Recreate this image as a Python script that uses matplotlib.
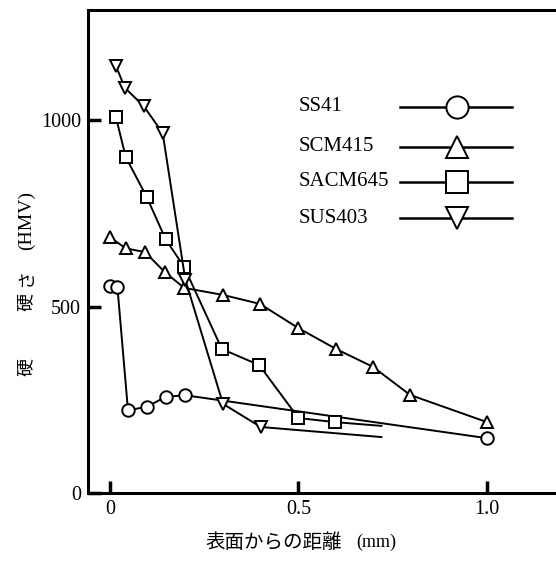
import matplotlib.pyplot as plt
from matplotlib.lines import Line2D

plt.rcParams['font.family'] = ['Liberation Serif', 'DejaVu Serif']

# hardness profiles vs depth from surface (mm)
ss41_x = [0.0, 0.02, 0.048, 0.098, 0.148, 0.2, 1.0]
ss41_y = [555, 552, 222, 231, 258, 262, 147]

scm415_x = [0.0, 0.042, 0.093, 0.146, 0.197, 0.3, 0.398, 0.5, 0.6, 0.698, 0.796, 1.0]
scm415_y = [686, 656, 646, 592, 550, 531, 507, 442, 386, 338, 263, 190]

sacm645_x = [0.016, 0.042, 0.098, 0.148, 0.197, 0.297, 0.396, 0.5, 0.597, 0.72]
sacm645_y = [1008, 901, 793, 680, 606, 386, 343, 201, 190, 180]

sus403_x = [0.016, 0.04, 0.09, 0.14, 0.2, 0.3, 0.4, 0.72]
sus403_y = [1145, 1086, 1037, 965, 572, 239, 177, 150]

names = ['SS41', 'SCM415', 'SACM645', 'SUS403']
markers = ['o', '^', 's', 'v']

W, H = 556, 561
fig = plt.figure(figsize=(W / 100, H / 100), dpi=100)
ax = fig.add_axes([88 / W, 68 / H, (W - 88) / W, 483 / H])

series = [(ss41_x, ss41_y, False), (scm415_x, scm415_y, False),
          (sacm645_x, sacm645_y, True), (sus403_x, sus403_y, True)]
for (xs, ys, open_end), m in zip(series, markers):
    every = list(range(len(xs) - 1)) if open_end else None
    ax.plot(xs, ys, color='black', lw=1.4, marker=m, ms=9, mfc='white',
            mec='black', mew=1.4, markevery=every, zorder=3)

ax.set_xlim(-0.058, 1.183)
ax.set_ylim(0, 1295)
ax.spines['right'].set_visible(False)
for s in ['left', 'bottom', 'top']:
    ax.spines[s].set_linewidth(2.2)

ax.set_xticks([0, 0.5, 1.0])
ax.set_xticklabels(['0', '0.5', '1.0'])
ax.set_yticks([0, 500, 1000])
ax.set_yticklabels(['0', '500', '1000'])
ax.tick_params(direction='in', length=9, width=2.5, labelsize=14.5, pad=5)

# legend drawn by hand: name, then a sample line with a big marker
def fx(px):
    return px / W

def fy(py):
    return 1 - py / H

for i, (name, m) in enumerate(zip(names, markers)):
    yy = [107, 147, 182, 218][i]
    fig.text(fx(299), fy(yy), name, fontsize=15, ha='left', va='center')
    fig.add_artist(Line2D([fx(400), fx(457), fx(512)], [fy(yy)] * 3,
                          color='black', lw=1.8, marker=m, ms=16,
                          mfc='white', mec='black', mew=1.4, markevery=[1],
                          transform=fig.transFigure))

cjk = ['Noto Sans CJK JP', 'DejaVu Sans']
fig.text(fx(342), fy(542), '表面からの距離', fontsize=14, ha='right', va='center',
         family=cjk)
fig.text(fx(356), fy(542), '(mm)', fontsize=13, ha='left', va='center')

# vertical axis title, pieces placed along the left margin
fig.text(fx(26), fy(367), '硬', fontsize=13, rotation=90, ha='center', va='center',
         family=cjk)
fig.text(fx(26), fy(302), '硬', fontsize=13, rotation=90, ha='center', va='center',
         family=cjk)
fig.text(fx(26), fy(278), 'さ', fontsize=13, rotation=90, ha='center', va='center',
         family=cjk)
fig.text(fx(26), fy(221), '(HMV)', fontsize=14, rotation=90, ha='center',
         va='center')

fig.savefig('out.png', dpi=100)
